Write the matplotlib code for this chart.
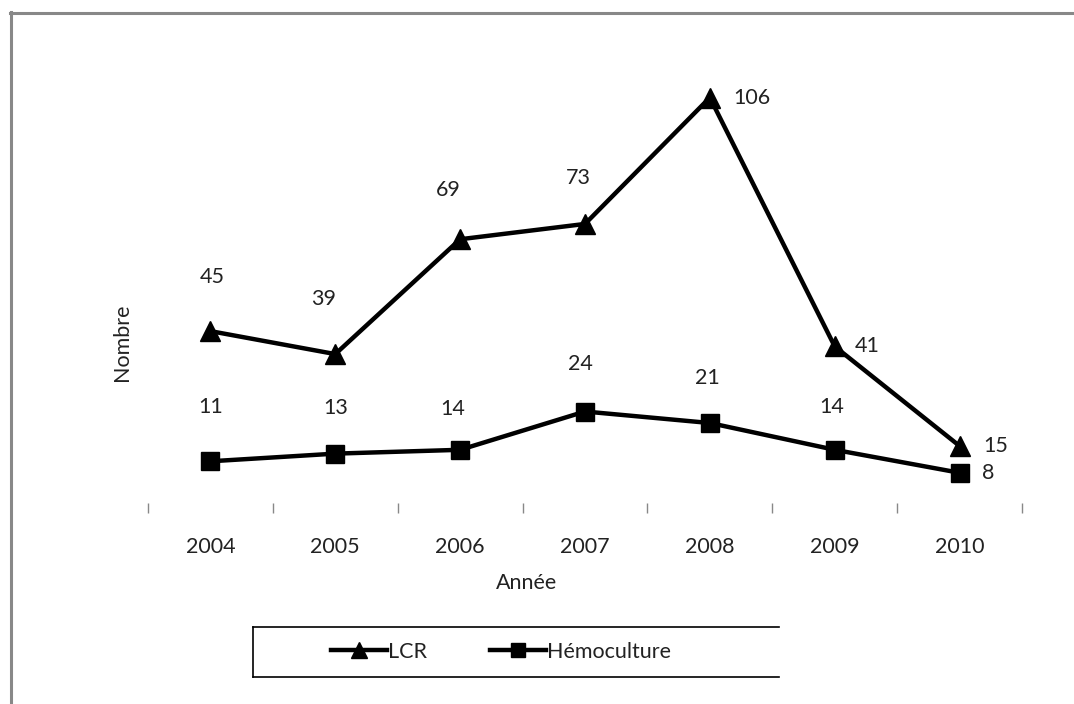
import matplotlib
matplotlib.use('Agg')
import matplotlib.pyplot as plt
from matplotlib.lines import Line2D
import numpy as np

plt.rcParams['font.family'] = ['Lato', 'DejaVu Sans']

# data
years = ['2004', '2005', '2006', '2007', '2008', '2009', '2010']
lcr = [45, 39, 69, 73, 106, 41, 15]
hemoculture = [11, 13, 14, 24, 21, 14, 8]

# label offsets in pixels (dx, dy up)
lcr_offsets = [(2, 54), (-12, 55), (-12, 49), (-7, 46), (42, 0), (32, 0), (36, 0)]
hemo_offsets = [(0, 54), (0, 46), (-7, 41), (-5, 48), (-2, 45), (-3, 43), (29, 0)]

W, H = 1074, 704
FS = 15.5
fig = plt.figure(figsize=(W / 100, H / 100), dpi=100)
fig.patch.set_facecolor('white')

ax = fig.add_axes([148 / W, 1 - 503.4 / H, (1022 - 148) / W, (503.4 - 44) / H])
x = np.arange(len(years))

ax.plot(x, lcr, color='black', lw=3.2, marker='^', markersize=14, label='LCR')
ax.plot(x, hemoculture, color='black', lw=3.2, marker='s', markersize=12.5,
        label='Hémoculture')

for xi, v, (dx, dy) in zip(x, lcr, lcr_offsets):
    ax.annotate(str(v), (xi, v), xytext=(dx, dy), textcoords='offset pixels',
                ha='center', va='center', fontsize=FS, color='#222222')
for xi, v, (dx, dy) in zip(x, hemoculture, hemo_offsets):
    ax.annotate(str(v), (xi, v), xytext=(dx, dy), textcoords='offset pixels',
                ha='center', va='center', fontsize=FS, color='#222222')

ax.set_xlim(-0.5, len(years) - 0.5)
ax.set_ylim(0, 120)
for side in ['top', 'right', 'left', 'bottom']:
    ax.spines[side].set_visible(False)
ax.set_yticks([])
ax.set_xticks(x)
ax.set_xticklabels(years, fontsize=FS, color='#222222')
ax.set_xticks(np.arange(-0.5, len(years)), minor=True)
ax.tick_params(axis='x', which='major', length=0, pad=24)
ax.tick_params(axis='x', which='minor', length=7, width=1, color='#888888')

fig.text(527 / W, 1 - 583 / H, 'Année', ha='center', va='center',
         fontsize=FS, color='#222222')
fig.text(122 / W, 1 - 342 / H, 'Nombre', ha='center', va='center',
         rotation=90, fontsize=FS, color='#222222')

# legend
leg = fig.legend(loc='center left', bbox_to_anchor=(312 / W, 1 - 652 / H),
                 ncol=2, frameon=False, fontsize=FS, handlelength=2.6,
                 handletextpad=0.05, columnspacing=2.9, markerscale=0.85)
for t in leg.get_texts():
    t.set_color('#222222')

# legend box (open on the right)
def px_line(xs, ys, **kw):
    fig.add_artist(Line2D([v / W for v in xs], [1 - v / H for v in ys],
                          transform=fig.transFigure, **kw))

px_line([253, 779], [627, 627], color='black', lw=1.2)
px_line([253, 779], [677, 677], color='black', lw=1.2)
px_line([253, 253], [627, 677], color='black', lw=1.2)

# outer chart border (top and left only visible)
px_line([10, W], [12.5, 12.5], color='#888888', lw=2.2)
px_line([10.5, 10.5], [12, H], color='#888888', lw=2.2)

fig.savefig('out.png', dpi=100, facecolor='white')
